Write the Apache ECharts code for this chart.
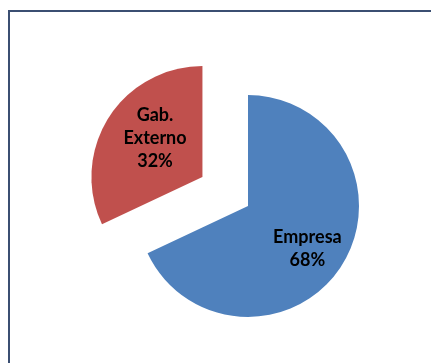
<!DOCTYPE html>
<html>
<head>
<meta charset="utf-8">
<script src="https://cdn.jsdelivr.net/npm/echarts@6/dist/echarts.min.js"></script>
<style>html,body{margin:0;padding:0;background:#fff}#c{width:431px;height:363px}</style>
</head>
<body>
<div id="c"></div>
<script>
var categories = ['Empresa', 'Gab.\nExterno'];
var values = [68, 32];
var colors = ['#4f81bd', '#c0504d'];
var labelShifts = [[10, 11], [2, -8]];

var chart = echarts.init(document.getElementById('c'), null, {renderer: 'canvas'});
var data = categories.map(function (c, i) {
  return {
    name: c,
    value: values[i],
    selected: i === 1,
    itemStyle: {color: colors[i]}
  };
});
chart.setOption({
  animation: false,
  backgroundColor: '#fff',
  graphic: [{
    type: 'rect',
    shape: {x: 9, y: 11, width: 440, height: 370},
    style: {fill: 'none', stroke: '#3b4f72', lineWidth: 2},
    silent: true
  }],
  series: [{
    type: 'pie',
    center: [248, 206],
    radius: [0, 111],
    startAngle: 90,
    clockwise: true,
    selectedMode: 'single',
    selectedOffset: 54,
    emphasis: {disabled: true},
    itemStyle: {borderWidth: 0},
    label: {
      show: true,
      position: 'inside',
      formatter: function (p) { return p.name + '\n' + p.value + '%'; },
      fontFamily: 'Lato',
      fontWeight: 'bold',
      fontSize: 18,
      lineHeight: 23,
      color: '#000',
      align: 'center'
    },
    labelLayout: function (p) {
      var s = labelShifts[p.dataIndex];
      return {dx: s[0], dy: s[1]};
    },
    labelLine: {show: false},
    data: data
  }]
});
</script>
</body>
</html>
